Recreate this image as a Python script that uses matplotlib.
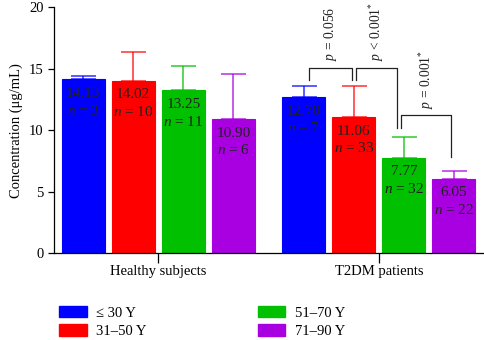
import numpy as np
import matplotlib
matplotlib.use("Agg")
import matplotlib.pyplot as plt
from matplotlib.patches import Patch

plt.rcParams["font.family"] = ["Liberation Serif", "DejaVu Serif"]
plt.rcParams["mathtext.fontset"] = "custom"
plt.rcParams["mathtext.rm"] = "Liberation Serif"
plt.rcParams["mathtext.it"] = "Liberation Serif:italic"
plt.rcParams["font.size"] = 10

groups = ["Healthy subjects", "T2DM patients"]
age_labels = ["\u2264 30 Y", "31\u201350 Y", "51\u201370 Y", "71\u201390 Y"]
colors = ["#0000ff", "#ff0000", "#00c000", "#a800e0"]

healthy_means = [14.13, 14.02, 13.25, 10.90]
healthy_err = [0.3, 2.3, 1.95, 3.7]
healthy_n = [3, 10, 11, 6]

t2dm_means = [12.70, 11.06, 7.77, 6.05]
t2dm_err = [0.9, 2.5, 1.66, 0.64]
t2dm_n = [7, 33, 32, 22]

means = [healthy_means, t2dm_means]
errs = [healthy_err, t2dm_err]
ns = [healthy_n, t2dm_n]

p_labels = ["$p$ = 0.056", "$p$ < 0.001$^{*}$", "$p$ = 0.001$^{*}$"]

fig = plt.figure(figsize=(4.85, 3.4), dpi=100)
ax = fig.add_axes([0.111, 0.256, 0.889, 0.7226])

centers = [0.0, 4.41]
offsets = np.array([-1.5, -0.5, 0.5, 1.5])
width = 0.86

for g in range(2):
    xs = centers[g] + offsets
    for i in range(4):
        ax.bar(xs[i], means[g][i], width=width, color=colors[i],
               edgecolor=colors[i], linewidth=0.8, zorder=2)
        ax.errorbar(xs[i], means[g][i], yerr=[[0], [errs[g][i]]],
                    color=colors[i], alpha=0.75, capsize=9, capthick=1.2,
                    elinewidth=1.2, zorder=1)
        ax.text(xs[i], means[g][i] - 1.15, f"{means[g][i]:.2f}",
                ha="center", va="center", color="#222222", fontsize=11, zorder=3)
        ax.text(xs[i], means[g][i] - 2.55, f"$n$ = {ns[g][i]}",
                ha="center", va="center", color="#222222", fontsize=11, zorder=3)

# significance brackets (T2DM group)
c2 = centers[1]
brackets = [
    (c2 - 1.39, c2 - 0.54, 15.08, 14.08, 14.08),
    (c2 - 0.45, c2 + 0.37, 15.03, 14.08, 10.15),
    (c2 + 0.45, c2 + 1.44, 11.23, 10.15, 7.79),
]
text_base = [15.65, 15.65, 11.75]
for (x0, x1, top, y0, y1), lab, tb in zip(brackets, p_labels, text_base):
    ax.plot([x0, x0, x1, x1], [y0, top, top, y1], color="#222222",
            linewidth=0.9, clip_on=False)
    ax.text((x0 + x1) / 2, tb, lab, rotation=90, ha="center", va="bottom",
            fontsize=9.8, color="#222222")

ax.set_xlim(-2.088, 6.53)
ax.set_ylim(0, 20)
ax.set_yticks([0, 5, 10, 15, 20])
ax.set_xticks(centers)
ax.set_xticklabels(groups, fontsize=10.5)
ax.set_ylabel("Concentration (\u03bcg/mL)", fontsize=10.5, labelpad=4)
ax.tick_params(axis="both", direction="out", length=4, width=0.9, labelsize=10.5)
ax.tick_params(axis="x", length=7, pad=2)
for s in ["top", "right"]:
    ax.spines[s].set_visible(False)
for s in ["left", "bottom"]:
    ax.spines[s].set_linewidth(0.9)

handles = [Patch(facecolor=c, edgecolor=c) for c in colors]
fig.legend(handles, age_labels, ncol=2, loc="lower left",
           bbox_to_anchor=(0.095, -0.032), frameon=False, fontsize=10.5,
           handlelength=1.9, handleheight=0.85, handletextpad=0.65,
           labelspacing=0.3, columnspacing=7.6)

fig.savefig("out.png", dpi=100)
